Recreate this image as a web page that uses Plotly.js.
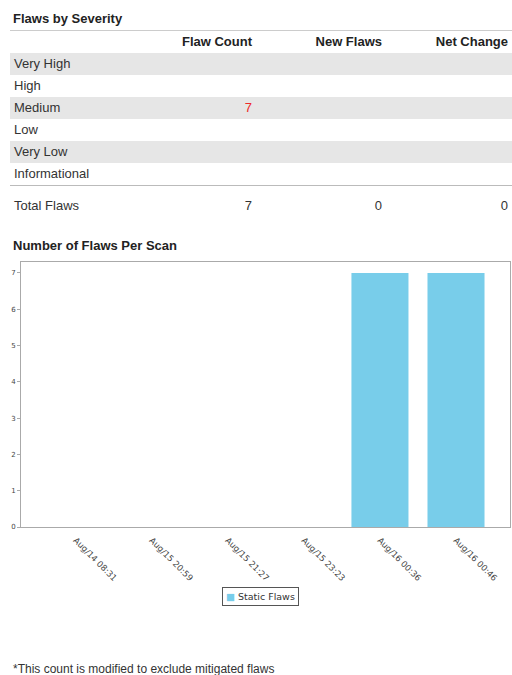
<!DOCTYPE html>
<html><head><meta charset="utf-8">
<script src="https://cdn.plot.ly/plotly-3.0.1.min.js"></script>
<style>
body{margin:0;padding:0;width:512px;height:675px;background:#fff;font-family:"Liberation Sans",Arial,sans-serif;color:#333;position:relative;overflow:hidden;}
.h{position:absolute;left:13px;font-weight:bold;font-size:13px;color:#222;}
table{position:absolute;left:10px;top:30px;width:502px;border-collapse:collapse;font-size:13px;border-top:1px solid #ccc;table-layout:fixed;}
td,th{padding:0 4px;height:22px;line-height:22px;}
th{font-weight:bold;text-align:right;color:#222;}
td.n{text-align:right;}
tr.g td{background:#e6e6e6;}
tr.tot td{border-top:1px solid #bbb;height:40px;}
#chart{position:absolute;left:0;top:250px;width:512px;height:370px;}
.foot{position:absolute;left:13px;top:662px;font-size:12px;color:#333;}
</style></head><body>
<div class="h" style="top:11px">Flaws by Severity</div>
<table id="tbl"><colgroup><col style="width:166px"><col style="width:80px"><col style="width:130px"><col style="width:126px"></colgroup></table>
<div class="h" style="top:238px">Number of Flaws Per Scan</div>
<div id="chart"></div>
<div class="foot">*This count is modified to exclude mitigated flaws</div>
<script>
const columns = ["", "Flaw Count", "New Flaws", "Net Change"];
const severities = ["Very High", "High", "Medium", "Low", "Very Low", "Informational"];
const flawCount = ["", "", "7", "", "", ""];
const newFlaws = ["", "", "", "", "", ""];
const netChange = ["", "", "", "", "", ""];
const totals = ["Total Flaws", "7", "0", "0"];

const scans = ["Aug/14 08:31", "Aug/15 20:59", "Aug/15 21:27", "Aug/15 23:23", "Aug/16 00:36", "Aug/16 00:46"];
const staticFlaws = [0, 0, 0, 0, 7, 7];
const seriesName = "Static Flaws";
const barColor = "#78cdea";

const tbl = document.getElementById('tbl');
let html = '<tr>' + columns.map((c,i)=> i===0 ? '<th style="text-align:left"></th>' : '<th>'+c+'</th>').join('') + '</tr>';
severities.forEach((s,i)=>{
  html += '<tr class="'+(i%2===0?'g':'')+'"><td>'+s+'</td><td class="n" style="color:#ee2a2a">'+flawCount[i]+'</td><td class="n">'+newFlaws[i]+'</td><td class="n">'+netChange[i]+'</td></tr>';
});
html += '<tr class="tot">' + totals.map((t,i)=>'<td class="'+(i?'n':'')+'">'+t+'</td>').join('') + '</tr>';
tbl.insertAdjacentHTML('beforeend', html);

Plotly.newPlot('chart', [{
  type:'bar', x: scans.map((s,i)=>i), y: staticFlaws, name: seriesName,
  width:0.75, marker:{color: barColor, line:{width:0}},
  showlegend:false
}], {
  width:512, height:370,
  margin:{l:21, r:2, t:12, b:93},
  paper_bgcolor:'#fff', plot_bgcolor:'#fff',
  font:{family:'DejaVu Sans, Verdana, sans-serif', size:8, color:'#555'},
  xaxis:{range:[-0.72,5.71], tickvals: scans.map((s,i)=>i), ticktext: scans, tickangle:45, automargin:false,
    showgrid:false, zeroline:false, showline:true, linecolor:'#aaa', mirror:true, ticks:'outside', ticklen:4, tickcolor:'rgba(0,0,0,0)',
    tickfont:{size:8.5, color:'#444'}},
  yaxis:{range:[0,7.3], dtick:1, showgrid:false, zeroline:false, showline:true, linecolor:'#aaa', mirror:true, automargin:false,
    ticks:'outside', ticklen:3, tickcolor:'#aaa', tickfont:{size:7, color:'#444'}},
  showlegend:false,
  annotations:[{xref:'paper', yref:'paper', x:0.49, y:-0.228, xanchor:'center', yanchor:'top', showarrow:false,
    text:'<span style="color:'+barColor+'">■</span> '+seriesName, font:{size:9.5, color:'#333'},
    bordercolor:'#555', borderwidth:1, borderpad:3, bgcolor:'#fff'}]
}, {displayModeBar:false, staticPlot:true});
</script>
</body></html>
